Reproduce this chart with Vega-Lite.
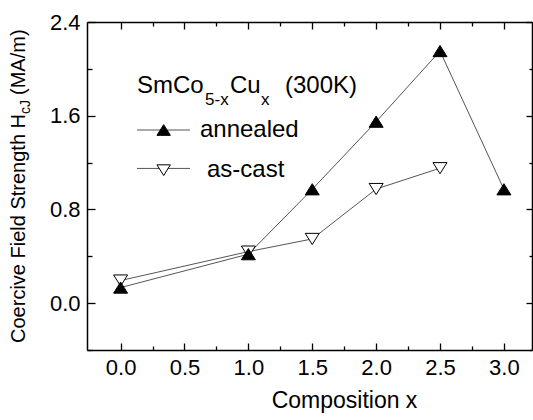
{
  "$schema": "https://vega.github.io/schema/vega-lite/v6.json",
  "width": 445,
  "height": 328,
  "autosize": "none",
  "padding": {"left": 87, "top": 22, "right": 1, "bottom": 70},
  "config": {
    "view": {"stroke": null},
    "font": "Liberation Sans",
    "axis": {"domainColor": "black", "domainWidth": 1.5, "tickColor": "black", "tickWidth": 1.3, "labelColor": "black", "labelFont": "Liberation Sans", "labelFontSize": 22, "grid": false, "titleColor": "black", "titleFont": "Liberation Sans", "titleFontWeight": "normal"}
  },
  "datasets": {
    "pts": [
      {"x": 0.0, "y": 0.193, "series": "as-cast"},
      {"x": 1.0, "y": 0.44, "series": "as-cast"},
      {"x": 1.5, "y": 0.548, "series": "as-cast"},
      {"x": 2.0, "y": 0.974, "series": "as-cast"},
      {"x": 2.5, "y": 1.152, "series": "as-cast"},
      {"x": 0.0, "y": 0.133, "series": "annealed"},
      {"x": 1.0, "y": 0.418, "series": "annealed"},
      {"x": 1.5, "y": 0.972, "series": "annealed"},
      {"x": 2.0, "y": 1.549, "series": "annealed"},
      {"x": 2.5, "y": 2.152, "series": "annealed"},
      {"x": 3.0, "y": 0.972, "series": "annealed"}
    ]
  },
  "resolve": {"axis": {"x": "independent", "y": "independent"}},
  "layer": [
    {
      "data": {"name": "pts"},
      "mark": {"type": "line", "color": "#555555", "strokeWidth": 1},
      "encoding": {
        "x": {"field": "x", "type": "quantitative", "scale": {"domain": [-0.263, 3.22], "nice": false, "zero": false},
          "axis": {"orient": "bottom", "values": [0, 0.25, 0.5, 0.75, 1, 1.25, 1.5, 1.75, 2, 2.25, 2.5, 2.75, 3],
            "labelExpr": "abs(datum.value*2 - round(datum.value*2)) < 0.01 ? format(datum.value, '.1f') : ''",
            "ticks": true, "tickSize": -7,
            "tickDash": {"condition": {"test": "abs(datum.value*2 - round(datum.value*2)) > 0.01", "value": [4, 20]}, "value": [20, 0]},
            "labelPadding": 14, "labelFlush": false, "labelOverlap": false,
            "title": "Composition x", "titleFontSize": 23, "titleX": 257, "titleY": 57, "titleAlign": "center", "titleBaseline": "alphabetic"}},
        "y": {"field": "y", "type": "quantitative", "scale": {"domain": [-0.4, 2.4], "nice": false, "zero": false},
          "axis": {"orient": "left", "values": [-0.4, 0, 0.4, 0.8, 1.2, 1.6, 2.0, 2.4],
            "labelExpr": "abs(datum.value/0.8 - round(datum.value/0.8)) < 0.01 ? format(datum.value, '.1f') : ''",
            "ticks": true, "tickSize": -8,
            "tickDash": {"condition": {"test": "abs(datum.value/0.8 - round(datum.value/0.8)) > 0.01", "value": [5, 20]}, "value": [20, 0]},
            "labelPadding": 15, "labelFlush": false, "labelOverlap": false, "title": null}},
        "detail": {"field": "series"}
      }
    },
    {
      "data": {"name": "pts"},
      "mark": {"type": "point", "filled": true, "size": 196, "stroke": "black", "strokeWidth": 1, "opacity": 1},
      "encoding": {
        "x": {"field": "x", "type": "quantitative",
          "axis": {"orient": "top", "values": [0, 0.25, 0.5, 0.75, 1, 1.25, 1.5, 1.75, 2, 2.25, 2.5, 2.75, 3], "labels": false,
            "ticks": true, "tickSize": -7,
            "tickDash": {"condition": {"test": "abs(datum.value*2 - round(datum.value*2)) > 0.01", "value": [4, 20]}, "value": [20, 0]},
            "title": null}},
        "y": {"field": "y", "type": "quantitative",
          "axis": {"orient": "right", "values": [-0.4, 0, 0.4, 0.8, 1.2, 1.6, 2.0, 2.4], "labels": false,
            "ticks": true, "tickSize": -6,
            "tickDash": {"condition": {"test": "abs(datum.value/0.8 - round(datum.value/0.8)) > 0.01", "value": [3, 20]}, "value": [20, 0]},
            "title": null}},
        "shape": {"field": "series", "scale": {"domain": ["annealed", "as-cast"], "range": ["M-1,0.8L1,0.8L0,-0.8Z", "M-1,-0.8L1,-0.8L0,0.8Z"]}, "legend": null},
        "fill": {"field": "series", "scale": {"domain": ["annealed", "as-cast"], "range": ["black", "white"]}, "legend": null}
      }
    },
    {
      "data": {"values": [{}]},
      "mark": {"type": "rule", "color": "#555555", "strokeWidth": 1},
      "encoding": {"x": {"datum": 0.128, "type": "quantitative", "axis": null}, "x2": {"datum": 0.543}, "y": {"datum": 1.478, "type": "quantitative", "axis": null}}
    },
    {
      "data": {"values": [{}]},
      "mark": {"type": "rule", "color": "#555555", "strokeWidth": 1},
      "encoding": {"x": {"datum": 0.128, "type": "quantitative", "axis": null}, "x2": {"datum": 0.543}, "y": {"datum": 1.15, "type": "quantitative", "axis": null}}
    },
    {
      "data": {"values": [{}]},
      "mark": {"type": "point", "filled": true, "size": 180, "shape": "M-1,0.8L1,0.8L0,-0.8Z", "fill": "black", "stroke": "black", "strokeWidth": 1, "opacity": 1},
      "encoding": {"x": {"datum": 0.337, "type": "quantitative", "axis": null}, "y": {"datum": 1.478, "type": "quantitative", "axis": null}}
    },
    {
      "data": {"values": [{}]},
      "mark": {"type": "point", "filled": true, "size": 180, "shape": "M-1,-0.8L1,-0.8L0,0.8Z", "fill": "white", "stroke": "black", "strokeWidth": 1, "opacity": 1},
      "encoding": {"x": {"datum": 0.337, "type": "quantitative", "axis": null}, "y": {"datum": 1.135, "type": "quantitative", "axis": null}}
    },
    {
      "data": {"values": [{}]},
      "mark": {"type": "text", "text": "annealed", "font": "Liberation Sans", "fontSize": 24, "align": "left", "baseline": "alphabetic", "color": "black"},
      "encoding": {"x": {"datum": 0.621, "type": "quantitative", "axis": null}, "y": {"datum": 1.418, "type": "quantitative", "axis": null}}
    },
    {
      "data": {"values": [{}]},
      "mark": {"type": "text", "text": "as-cast", "font": "Liberation Sans", "fontSize": 24, "align": "left", "baseline": "alphabetic", "color": "black"},
      "encoding": {"x": {"datum": 0.676, "type": "quantitative", "axis": null}, "y": {"datum": 1.077, "type": "quantitative", "axis": null}}
    },
    {
      "data": {"values": [{}]},
      "mark": {"type": "text", "text": "SmCo", "font": "Liberation Sans", "fontSize": 24, "align": "left", "baseline": "alphabetic", "color": "black"},
      "encoding": {"x": {"datum": 0.128, "type": "quantitative", "axis": null}, "y": {"datum": 1.794, "type": "quantitative", "axis": null}}
    },
    {
      "data": {"values": [{}]},
      "mark": {"type": "text", "text": "5-x", "font": "Liberation Sans", "fontSize": 17, "align": "left", "baseline": "alphabetic", "color": "black"},
      "encoding": {"x": {"datum": 0.661, "type": "quantitative", "axis": null}, "y": {"datum": 1.691, "type": "quantitative", "axis": null}}
    },
    {
      "data": {"values": [{}]},
      "mark": {"type": "text", "text": "Cu", "font": "Liberation Sans", "fontSize": 24, "align": "left", "baseline": "alphabetic", "color": "black"},
      "encoding": {"x": {"datum": 0.856, "type": "quantitative", "axis": null}, "y": {"datum": 1.794, "type": "quantitative", "axis": null}}
    },
    {
      "data": {"values": [{}]},
      "mark": {"type": "text", "text": "x", "font": "Liberation Sans", "fontSize": 17, "align": "left", "baseline": "alphabetic", "color": "black"},
      "encoding": {"x": {"datum": 1.099, "type": "quantitative", "axis": null}, "y": {"datum": 1.691, "type": "quantitative", "axis": null}}
    },
    {
      "data": {"values": [{}]},
      "mark": {"type": "text", "text": "(300K)", "font": "Liberation Sans", "fontSize": 24, "align": "left", "baseline": "alphabetic", "color": "black"},
      "encoding": {"x": {"datum": 1.287, "type": "quantitative", "axis": null}, "y": {"datum": 1.794, "type": "quantitative", "axis": null}}
    },
    {
      "data": {"values": [{}]},
      "mark": {"type": "text", "text": "Coercive Field Strength H", "font": "Liberation Sans", "fontSize": 20, "angle": 270, "align": "left", "baseline": "alphabetic", "color": "black"},
      "encoding": {"x": {"datum": -0.748, "type": "quantitative", "axis": null}, "y": {"datum": -0.34, "type": "quantitative", "axis": null}}
    },
    {
      "data": {"values": [{}]},
      "mark": {"type": "text", "text": "cJ", "font": "Liberation Sans", "fontSize": 14, "angle": 270, "align": "left", "baseline": "alphabetic", "color": "black"},
      "encoding": {"x": {"datum": -0.709, "type": "quantitative", "axis": null}, "y": {"datum": 1.615, "type": "quantitative", "axis": null}}
    },
    {
      "data": {"values": [{}]},
      "mark": {"type": "text", "text": "(MA/m)", "font": "Liberation Sans", "fontSize": 20, "angle": 270, "align": "left", "baseline": "alphabetic", "color": "black"},
      "encoding": {"x": {"datum": -0.748, "type": "quantitative", "axis": null}, "y": {"datum": 1.777, "type": "quantitative", "axis": null}}
    }
  ]
}
